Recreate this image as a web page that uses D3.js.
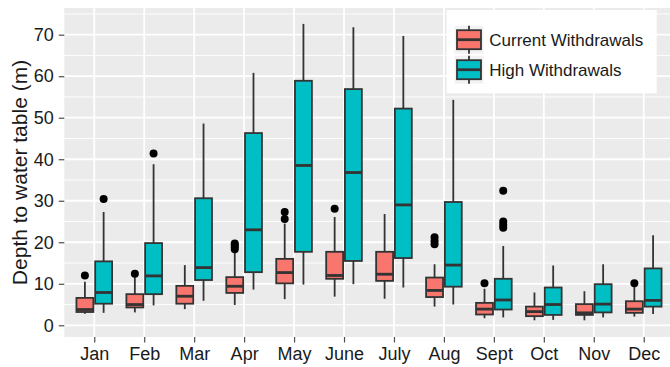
<!DOCTYPE html>
<html>
<head>
<meta charset="utf-8">
<script src="https://cdn.jsdelivr.net/npm/d3@7"></script>
<style>
  html, body { margin: 0; padding: 0; background: #fff; }
  svg { display: block; font-family: "Liberation Sans", Arial, sans-serif; }
</style>
</head>
<body>
<svg id="chart" width="670" height="367"></svg>
<script>
// Monthly depth to water table (m) under two withdrawal scenarios.
const months = ["Jan", "Feb", "Mar", "Apr", "May", "June", "July", "Aug", "Sept", "Oct", "Nov", "Dec"];
const seriesNames = ["Current Withdrawals", "High Withdrawals"];
const seriesColors = ["#F8766D", "#00BFC4"];
const yTicks = [0, 10, 20, 30, 40, 50, 60, 70];

// Five-number summaries per month: [lower whisker, Q1, median, Q3, upper whisker]
const currentStats = [
  [2.8, 3.2, 3.8, 6.6, 10.5],
  [3.1, 4.3, 5.0, 7.5, 11.6],
  [3.9, 5.2, 7.0, 9.5, 14.5],
  [4.9, 7.8, 9.4, 11.6, 17.6],
  [6.3, 10.1, 12.7, 16.0, 24.5],
  [6.9, 11.2, 12.0, 17.7, 26.1],
  [6.4, 10.7, 12.3, 17.7, 26.8],
  [4.5, 6.8, 8.4, 11.5, 14.7],
  [1.7, 2.6, 3.9, 5.4, 8.8],
  [1.2, 2.2, 3.3, 4.5, 7.9],
  [1.2, 2.5, 3.0, 5.1, 8.2],
  [2.1, 3.0, 3.9, 5.8, 9.4]
];
const currentOutliers = [
  [12.0], [12.4], [], [18.3, 18.8, 19.3, 19.7], [25.6, 27.3], [28.1],
  [], [19.5, 20.3, 21.2], [10.1], [], [], [10.1]
];

const highStats = [
  [3.0, 5.2, 7.9, 15.4, 27.3],
  [4.8, 7.5, 11.9, 19.8, 38.8],
  [5.9, 10.9, 13.9, 30.6, 48.6],
  [8.6, 12.8, 23.0, 46.3, 60.8],
  [9.8, 17.7, 38.5, 58.9, 72.6],
  [9.9, 15.5, 36.8, 56.9, 71.8],
  [9.1, 16.2, 29.0, 52.2, 69.7],
  [5.0, 9.3, 14.5, 29.7, 54.3],
  [1.9, 3.8, 6.1, 11.2, 19.1],
  [1.3, 2.5, 5.0, 9.1, 14.4],
  [1.9, 3.1, 5.1, 9.9, 14.7],
  [2.7, 4.5, 6.0, 13.7, 21.7]
];
const highOutliers = [
  [30.4], [41.4], [], [], [], [], [], [], [23.5, 24.2, 25.0, 32.4], [], [], []
];

const svg = d3.select("#chart");
const W = 670, H = 367;
const panel = { left: 64.3, top: 8, bottom: 337 };
const step = 49.95;
const textColor = "#1a1a1a";
const lineColor = "#333333";

const x = d3.scalePoint().domain(months)
  .range([panel.left + 0.6 * step, panel.left + 0.6 * step + 11 * step]);
panel.right = x(months[months.length - 1]) + 0.6 * step;

const y = d3.scaleLinear().domain([-2.82, 76.43]).range([panel.bottom, panel.top]);

svg.append("rect").attr("width", W).attr("height", H).attr("fill", "#fff");

// Panel background
svg.append("rect")
  .attr("x", panel.left).attr("y", panel.top)
  .attr("width", panel.right - panel.left).attr("height", panel.bottom - panel.top)
  .attr("fill", "#EBEBEB");

// Grid: minor, then major horizontals, then verticals at each month
const grid = svg.append("g");
const minor = d3.range(-5, 80, 10).filter(v => y(v) >= panel.top && y(v) <= panel.bottom);
grid.selectAll("line.minor").data(minor).join("line")
  .attr("x1", panel.left).attr("x2", panel.right)
  .attr("y1", d => y(d)).attr("y2", d => y(d))
  .attr("stroke", "#fff").attr("stroke-width", 0.9);
grid.selectAll("line.major").data(yTicks).join("line")
  .attr("x1", panel.left).attr("x2", panel.right)
  .attr("y1", d => y(d)).attr("y2", d => y(d))
  .attr("stroke", "#fff").attr("stroke-width", 1.8);
grid.selectAll("line.vert").data(months).join("line")
  .attr("x1", d => x(d)).attr("x2", d => x(d))
  .attr("y1", panel.top).attr("y2", panel.bottom)
  .attr("stroke", "#fff").attr("stroke-width", 1.8);

// Axes
const yAxis = svg.append("g")
  .attr("transform", `translate(${panel.left},0)`)
  .call(d3.axisLeft(y).tickValues(yTicks).tickSize(5.5).tickPadding(5).tickFormat(d3.format("d")));
const xAxis = svg.append("g")
  .attr("transform", `translate(0,${panel.bottom})`)
  .call(d3.axisBottom(x).tickSize(5.5).tickPadding(5));
[yAxis, xAxis].forEach(g => {
  g.select(".domain").remove();
  g.selectAll(".tick line").attr("stroke", "#4d4d4d").attr("stroke-width", 1.2);
  g.selectAll(".tick text").attr("fill", textColor).style("font-size", "18px")
    .style("font-family", "'Liberation Sans', Arial, sans-serif");
});

// Y axis title
svg.append("text")
  .attr("transform", `translate(27,${(panel.top + panel.bottom) / 2}) rotate(-90)`)
  .attr("text-anchor", "middle")
  .attr("fill", textColor)
  .style("font-size", "21px")
  .text("Depth to water table (m)");

// Boxplots, dodged within each month
const boxW = step * 0.375;
const offsets = [-boxW / 2, boxW / 2];
const groups = [
  { stats: currentStats, outliers: currentOutliers },
  { stats: highStats, outliers: highOutliers }
];

const marks = svg.append("g");
groups.forEach((grp, si) => {
  months.forEach((m, i) => {
    const [lo, q1, med, q3, hi] = grp.stats[i];
    const cx = x(m) + offsets[si];
    const g = marks.append("g");
    g.append("line").attr("x1", cx).attr("x2", cx).attr("y1", y(hi)).attr("y2", y(q3))
      .attr("stroke", lineColor).attr("stroke-width", 1.8);
    g.append("line").attr("x1", cx).attr("x2", cx).attr("y1", y(q1)).attr("y2", y(lo))
      .attr("stroke", lineColor).attr("stroke-width", 1.8);
    g.append("rect")
      .attr("x", cx - boxW / 2 + 0.9).attr("width", boxW - 1.8)
      .attr("y", y(q3)).attr("height", y(q1) - y(q3))
      .attr("fill", seriesColors[si]).attr("stroke", lineColor).attr("stroke-width", 1.8);
    g.append("line").attr("x1", cx - boxW / 2 + 0.9).attr("x2", cx + boxW / 2 - 0.9)
      .attr("y1", y(med)).attr("y2", y(med))
      .attr("stroke", lineColor).attr("stroke-width", 2.8);
    g.selectAll("circle").data(grp.outliers[i]).join("circle")
      .attr("cx", cx).attr("cy", d => y(d)).attr("r", 4)
      .attr("fill", "#000");
  });
});

// Legend
const lg = svg.append("g");
lg.append("rect").attr("x", 446.7).attr("y", 10).attr("width", 210).attr("height", 83.3).attr("fill", "#fff");
seriesNames.forEach((name, i) => {
  const ky = 25.7 + i * 30;
  const kx = 454.5;
  const ks = 29;
  lg.append("rect").attr("x", kx).attr("y", ky).attr("width", ks).attr("height", ks - 1).attr("fill", "#F2F2F2");
  const cx = kx + ks / 2;
  lg.append("line").attr("x1", cx).attr("x2", cx).attr("y1", ky).attr("y2", ky + ks - 1)
    .attr("stroke", lineColor).attr("stroke-width", 1.8);
  lg.append("rect").attr("x", kx + 2.5).attr("y", ky + 4.5).attr("width", ks - 5).attr("height", ks - 10)
    .attr("fill", seriesColors[i]).attr("stroke", lineColor).attr("stroke-width", 1.8);
  lg.append("line").attr("x1", kx + 2.5).attr("x2", kx + ks - 2.5)
    .attr("y1", ky + (ks - 1) / 2).attr("y2", ky + (ks - 1) / 2)
    .attr("stroke", lineColor).attr("stroke-width", 2.8);
  lg.append("text").attr("x", 489.3).attr("y", ky + ks / 2).attr("dy", "0.35em")
    .attr("fill", textColor).style("font-size", "17px").text(name);
});
</script>
</body>
</html>
